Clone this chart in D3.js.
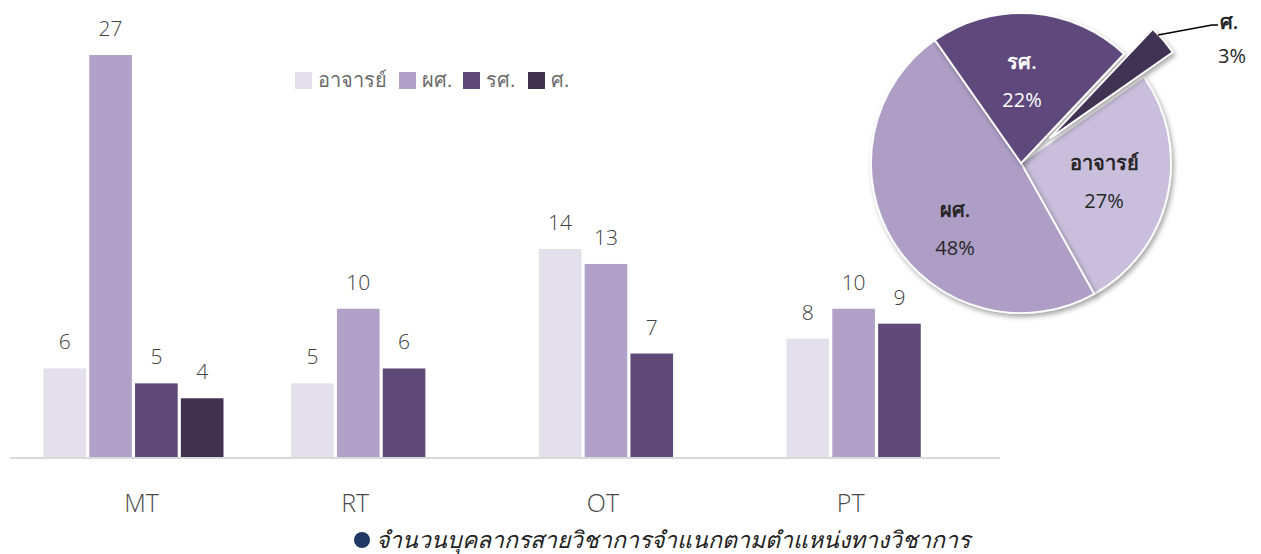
<!DOCTYPE html>
<html><head><meta charset="utf-8">
<script src="https://cdn.jsdelivr.net/npm/d3@7"></script>
<style>
html,body{margin:0;padding:0;background:#fff;}
svg{display:block;font-family:"Open Sans","Noto Sans",sans-serif;}
</style></head>
<body>
<svg id="c" width="1261" height="554"></svg>
<script>
const categories = ["MT", "RT", "OT", "PT"];
const series = ["อาจารย์", "ผศ.", "รศ.", "ศ."];
const valuesAjarn = [6, 5, 14, 8];
const valuesPhs = [27, 10, 13, 10];
const valuesRs = [5, 6, 7, 9];
const valuesS = [4, 0, 0, 0];
const barColors = ["#e3dfeb", "#b1a1c8", "#5e4979", "#41314f"];
const pieColors = ["#c9bedb", "#ae9ec6", "#5f4a7b", "#3f3152"];
const pieLabelColors = ["#262626", "#262626", "#ffffff", "#262626"];
const caption = "จำนวนบุคลากรสายวิชาการจำแนกตามตำแหน่งทางวิชาการ";

const allSeries = [valuesAjarn, valuesPhs, valuesRs, valuesS];
const svg = d3.select("#c");

// ---- Bar chart ----
const baseY = 458;
const x0 = d3.scaleBand().domain(categories).range([10, 1000]).paddingInner(0.273).paddingOuter(0.135);
const x1 = d3.scaleBand().domain(series).range([0, x0.bandwidth()]).paddingInner(0.07);
const y = d3.scaleLinear().domain([0, 27]).range([baseY, 55]);

const bars = [];
categories.forEach((c, ci) => {
  series.forEach((s, si) => {
    const v = allSeries[si][ci];
    if (v > 0) bars.push({c, s, si, v});
  });
});

svg.append("g").selectAll("rect").data(bars).join("rect")
  .attr("x", d => x0(d.c) + x1(d.s))
  .attr("y", d => y(d.v))
  .attr("width", x1.bandwidth())
  .attr("height", d => baseY - y(d.v))
  .attr("fill", d => barColors[d.si]);

svg.append("g").selectAll("text").data(bars).join("text")
  .attr("x", d => x0(d.c) + x1(d.s) + x1.bandwidth() / 2)
  .attr("y", d => y(d.v) - 19)
  .attr("text-anchor", "middle")
  .attr("font-size", 21)
  .attr("font-weight", 300)
  .attr("fill", "#404040")
  .text(d => d.v);

// axis
const xAxis = d3.axisBottom(x0).tickSize(0).tickPadding(0);
const ax = svg.append("g").attr("transform", `translate(0,${baseY})`).call(xAxis);
ax.select(".domain").attr("stroke", "#d9d9d9").attr("stroke-width", 2).attr("d", "M10,0H1000");
ax.selectAll(".tick text")
  .attr("y", 0).attr("dy", 0)
  .attr("transform", "translate(0,54)")
  .attr("font-size", 25).attr("fill", "#4a4a4a")
  .attr("font-weight", 300)
  .attr("font-family", "Open Sans, sans-serif")
  .attr("x", function(d) {
    const ci = categories.indexOf(d);
    const present = series.map((s, si) => allSeries[si][ci] > 0 ? si : -1).filter(i => i >= 0);
    const first = x1(series[present[0]]);
    const last = x1(series[present[present.length - 1]]) + x1.bandwidth();
    return (first + last) / 2 - x0.bandwidth() / 2 + (ci === 0 ? 8 : -3);
  });

// legend
const legendX = [295, 399, 463, 528];
const lg = svg.append("g").selectAll("g").data(series).join("g")
  .attr("transform", (d, i) => `translate(${legendX[i]},72)`);
lg.append("rect").attr("width", 17).attr("height", 17).attr("fill", (d, i) => barColors[i]);
lg.append("text").attr("x", 23).attr("y", 15).attr("font-size", 20).attr("fill", "#6b6b6b").text(d => d);

// ---- Pie chart ----
const totals = allSeries.map(a => d3.sum(a));
const total = d3.sum(totals);
const cx = 1021, cy = 163, R = 150;
const startA = 55 * Math.PI / 180;
const pie = d3.pie().sort(null).startAngle(startA).endAngle(startA + 2 * Math.PI);
const arcs = pie(totals);
const arc = d3.arc().innerRadius(0).outerRadius(R);
const explode = [0, 0, 0, 38];

const defs = svg.append("defs");
const f = defs.append("filter").attr("id", "sh").attr("x", "-20%").attr("y", "-20%").attr("width", "140%").attr("height", "140%");
f.append("feDropShadow").attr("dx", 2).attr("dy", 3).attr("stdDeviation", 2.5).attr("flood-color", "#000").attr("flood-opacity", 0.35);

const pg = svg.append("g").attr("transform", `translate(${cx},${cy})`);
pg.selectAll("path").data(arcs).join("path")
  .attr("d", arc)
  .attr("transform", (d, i) => {
    const m = (d.startAngle + d.endAngle) / 2;
    return `translate(${Math.sin(m) * explode[i]},${-Math.cos(m) * explode[i]})`;
  })
  .attr("fill", (d, i) => pieColors[i])
  .attr("stroke", "#fff").attr("stroke-width", 1.8)
  .attr("filter", "url(#sh)");

const pct = totals.map(v => Math.round(v / total * 100) + "%");
const labelPos = [[83, 0], [-66, 47], [1, -101], null];
arcs.forEach((d, i) => {
  if (!labelPos[i]) return;
  const [lx, ly] = labelPos[i];
  const t = pg.append("text").attr("text-anchor", "middle").attr("font-size", 20).attr("font-weight", 600)
    .attr("fill", pieLabelColors[i]);
  t.append("tspan").attr("x", lx).attr("y", ly + 7).text(series[i]);
  t.append("tspan").attr("x", lx).attr("y", ly + 45).attr("font-size", 20).attr("font-weight", 400).text(pct[i]);
});
// outside label for ศ.
pg.append("path").attr("d", `M${1158 - cx},${35 - cy}L${1212 - cx},${25 - cy}L${1218 - cx},${25 - cy}`)
  .attr("fill", "none").attr("stroke", "#000").attr("stroke-width", 1.3);
const tS = pg.append("text").attr("text-anchor", "middle").attr("font-size", 20).attr("fill", "#262626");
tS.append("tspan").attr("x", 1229 - cx).attr("y", 29 - cy).attr("font-weight", 600).text(series[3]);
tS.append("tspan").attr("x", 1232 - cx).attr("y", 63 - cy).text(pct[3]);

// caption
svg.append("circle").attr("cx", 362).attr("cy", 540).attr("r", 8).attr("fill", "#1f3864");
svg.append("text").attr("x", 376).attr("y", 548).attr("font-size", 23).attr("font-style", "italic")
  .attr("fill", "#222").text(caption);
</script>
</body></html>
